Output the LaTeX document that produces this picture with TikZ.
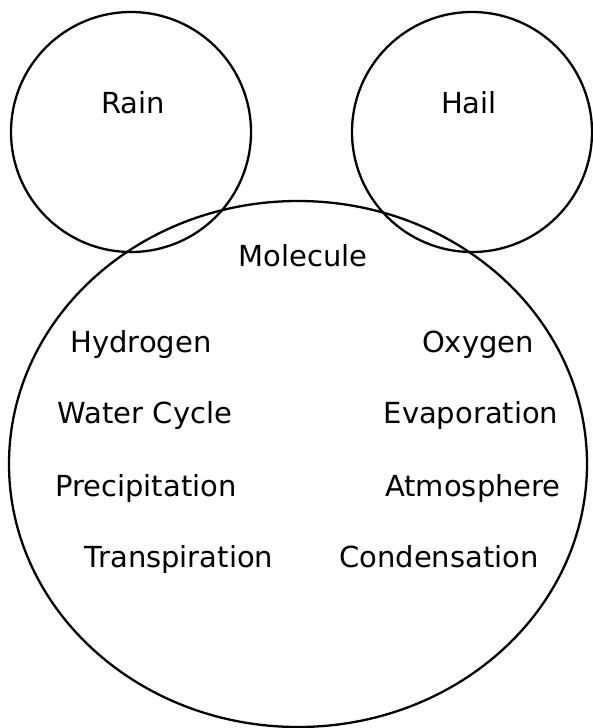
\documentclass[tikz,border=0pt]{standalone}
\usepackage{fontspec}
\setmainfont{DejaVu Sans}
\begin{document}
\begin{tikzpicture}[x=1pt,y=-1pt,
  ring/.style={draw=black,line width=2.3pt},
  lbl/.style={anchor=base,inner sep=0pt,font=\fontsize{29}{33}\selectfont}]
\useasboundingbox (0,0) rectangle (592,728);
\draw[ring] (131,132) circle (120);
\draw[ring] (472,132) circle (120);
\draw[ring] (298,464) ellipse [x radius=289, y radius=263];
\node[lbl] (rain) at (133,113) {Rain};
\node[lbl] (hail) at (469,113) {Hail};
\node[lbl] (mol) at (303,266) {Molecule};
\node[lbl] (hyd) at (141,352) {Hydrogen};
\node[lbl] (oxy) at (478,352) {Oxygen};
\node[lbl] (wc) at (145,423) {Water Cycle};
\node[lbl] (eva) at (471,423) {Evaporation};
\node[lbl] (pre) at (146,496) {Precipitation};
\node[lbl] (atm) at (473,496) {Atmosphere};
\node[lbl] (tra) at (179,567) {Transpiration};
\node[lbl] (con) at (439,567) {Condensation};
\end{tikzpicture}
\end{document}
